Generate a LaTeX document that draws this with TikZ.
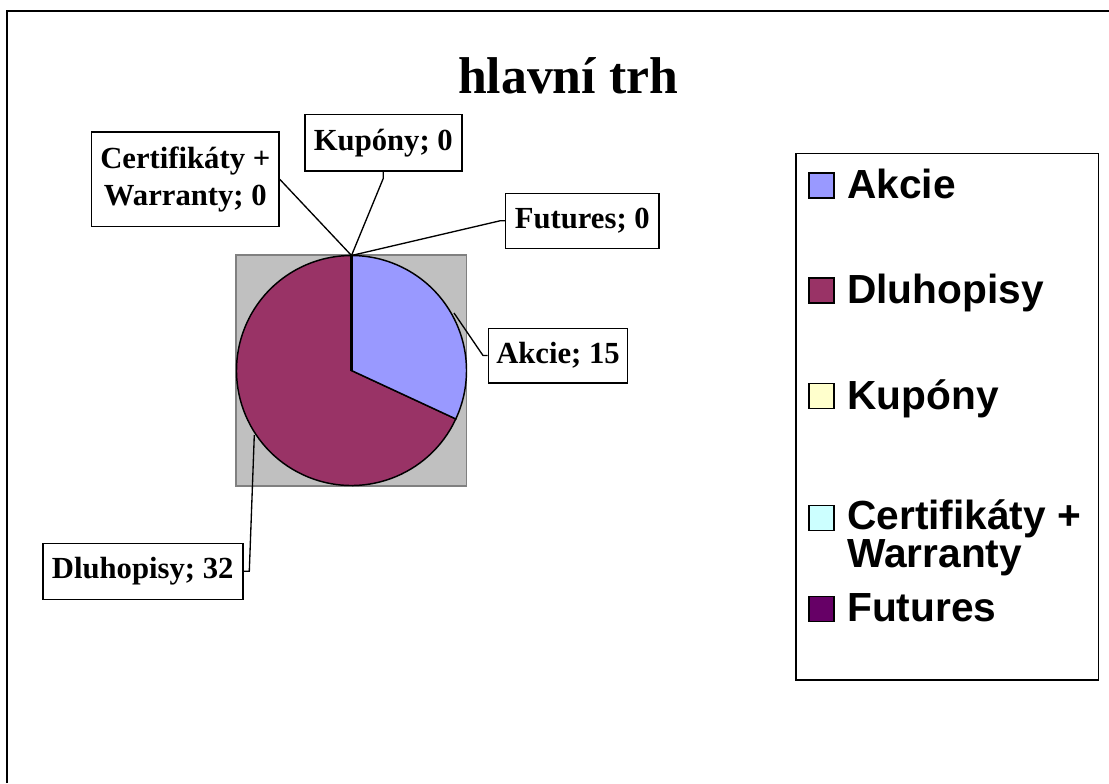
\documentclass[tikz,border=0pt]{standalone}
\usepackage{fontspec}
\setmainfont{Liberation Serif}
\setsansfont{Liberation Sans}
\definecolor{akcie}{HTML}{9999FF}
\definecolor{dluh}{HTML}{993366}
\definecolor{kup}{HTML}{FFFFCC}
\definecolor{cert}{HTML}{CCFFFF}
\definecolor{fut}{HTML}{660066}
\definecolor{plotgray}{HTML}{C0C0C0}
\definecolor{plotedge}{HTML}{808080}
\begin{document}
\begin{tikzpicture}[x=0.75pt,y=-0.75pt,
  lbl/.style={draw, line width=1.2pt, fill=white, inner sep=0pt, align=center,
    font=\fontsize{23}{28}\selectfont\bfseries},
  leader/.style={line width=1pt},
  swatch/.style={draw, line width=1pt, minimum size=18.75pt, inner sep=0pt},
  legtext/.style={anchor=base west, inner sep=0pt, align=left,
    font=\sffamily\bfseries\fontsize{30.5}{27}\selectfont}]
\useasboundingbox (0,0) rectangle (1109,783);

% outer frame
\draw[line width=1.8pt] (7,783) -- (7,11) -- (1109,11);

% title
\node[anchor=base, inner sep=0pt, font=\fontsize{38.8}{40}\selectfont\bfseries] (title) at (568,93) {hlavní trh};

% plot area
\filldraw[fill=plotgray, draw=plotedge, line width=0.9pt] (236,255) rectangle (466.7,486);

% pie
\coordinate (c) at (351.5,370.5);
\coordinate (top) at (351.5,255.5);
\filldraw[fill=dluh, line width=1.1pt] (c) -- ++(24.9:115) arc[start angle=24.9, end angle=270, radius=115] -- cycle;
\filldraw[fill=akcie, line width=1.1pt] (c) -- ++(-90:115) arc[start angle=-90, end angle=24.9, radius=115] -- cycle;
\draw[line width=2.2pt] (c) -- (top);

% data labels
\node[lbl, minimum width=117.75pt, minimum height=42.5pt] (lkup) at (383.3,142.7) {Kupóny; 0};
\node[lbl, minimum width=140.5pt, minimum height=71pt] (lcert) at (185.3,179.3) {Certifikáty +\\Warranty; 0};
\node[lbl, minimum width=115pt, minimum height=41.25pt] (lfut) at (582.3,220.8) {Futures; 0};
\node[lbl, minimum width=104.5pt, minimum height=40.8pt] (lakc) at (558,355.5) {Akcie; 15};
\node[lbl, minimum width=150pt, minimum height=42pt] (ldlu) at (142.7,571.3) {Dluhopisy; 32};

% leader lines
\coordinate (kk) at (383.3,178.3);
\coordinate (fk) at (500,220.8);
\coordinate (ak) at (483,355.5);
\coordinate (ap) at (454,313);
\coordinate (dk) at (249.3,571.3);
\coordinate (dp) at (254.3,435);
\draw[leader] (lcert.east) -- (top);
\draw[leader] (lkup.south) -- (kk) -- (top);
\draw[leader] (lfut.west) -- (fk) -- (top);
\draw[leader] (lakc.west) -- (ak) -- (ap);
\draw[leader] (ldlu.east) -- (dk) -- (dp);

% legend
\draw[line width=1.1pt] (796,153.3) rectangle (1098.3,680);
\node[swatch, fill=akcie] (sw1) at (821.5,185.5) {};
\node[swatch, fill=dluh] (sw2) at (821.5,290.5) {};
\node[swatch, fill=kup] (sw3) at (821.5,396) {};
\node[swatch, fill=cert] (sw4) at (821.5,518) {};
\node[swatch, fill=fut] (sw5) at (821.5,609) {};
\node[legtext] (t1) at (847,198) {Akcie};
\node[legtext] (t2) at (847,303) {Dluhopisy};
\node[legtext] (t3) at (847,409) {Kupóny};
\node[legtext] (t4) at (847,567) {Certifikáty +\\Warranty};
\node[legtext] (t5) at (847,621) {Futures};
\end{tikzpicture}
\end{document}
